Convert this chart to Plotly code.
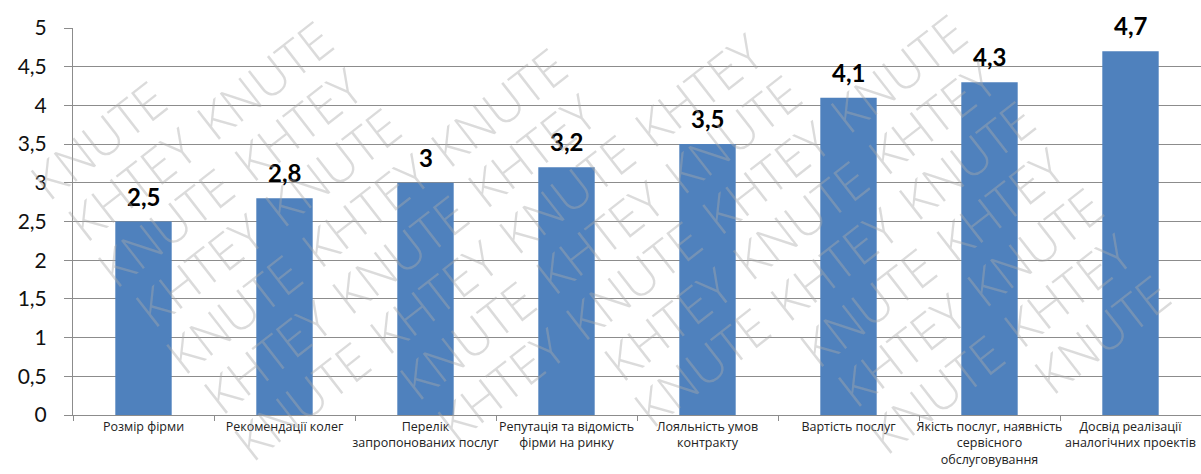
import math
import plotly.graph_objects as go

categories = [
    "Розмір фірми",
    "Рекомендації колег",
    "Перелік<br>запропонованих послуг",
    "Репутація та відомість<br>фірми на ринку",
    "Лояльність умов<br>контракту",
    "Вартість послуг",
    "Якість послуг, наявність<br>сервісного<br>обслуговування",
    "Досвід реалізації<br>аналогічних проектів",
]
values = [2.5, 2.8, 3.0, 3.2, 3.5, 4.1, 4.3, 4.7]
labels = [("%g" % v).replace(".", ",") for v in values]
ytick_vals = [0, 0.5, 1, 1.5, 2, 2.5, 3, 3.5, 4, 4.5, 5]
ytick_text = [("%g" % v).replace(".", ",") for v in ytick_vals]
watermark_words = ["KHTEY", "KNUTE"]

W, H = 1201, 474
ml, mr, mt, mb = 73, 0, 28, 59
pw, ph = W - ml - mr, H - mt - mb

fig = go.Figure()
fig.add_trace(go.Bar(
    x=categories, y=values,
    marker=dict(color="#4F81BD", line=dict(width=0)),
    width=0.4, hoverinfo="x+y",
))

annotations = []
# data labels
for c, v, t in zip(categories, values, labels):
    annotations.append(dict(
        x=c, y=v, xref="x", yref="y", text=t, showarrow=False,
        yanchor="bottom", yshift=9,
        font=dict(family="Lato", size=24, color="black", weight="bold"),
    ))

# watermark lattice (decorative), only words fully inside the figure
theta = math.radians(38)
ux, uy = math.cos(theta), -math.sin(theta)
vx, vy = math.sin(theta), math.cos(theta)
step_u, step_v = 168, 55
fs = 50
wlen = 5 * 0.6 * fs
cap = 0.72 * fs
hw = (wlen * math.cos(theta) + cap * math.sin(theta)) / 2 + 4
hh = (wlen * math.sin(theta) + cap * math.cos(theta)) / 2 + 9
ox, oy = 600, 237
for i in range(-12, 13):
    for j in range(-30, 31):
        px = ox + i * step_u * ux + j * step_v * vx
        py = oy + i * step_u * uy + j * step_v * vy
        if hw <= px <= W - hw and hh <= py <= H - hh:
            annotations.append(dict(
                x=(px - ml) / pw, y=(H - py - mb) / ph,
                xref="paper", yref="paper",
                text=watermark_words[(i + j) % 2], showarrow=False,
                textangle=-38, xanchor="center", yanchor="middle",
                font=dict(family="Open Sans", size=fs, weight=300,
                          color="rgba(170,170,170,0.42)"),
            ))

fig.update_layout(
    width=W, height=H,
    margin=dict(l=ml, r=mr, t=mt, b=mb),
    paper_bgcolor="white", plot_bgcolor="white",
    showlegend=False,
    annotations=annotations,
    yaxis=dict(range=[0, 5], tickvals=ytick_vals, ticktext=ytick_text,
               showgrid=True, gridcolor="#8c8c8c", gridwidth=1,
               showline=True, linecolor="#8c8c8c", linewidth=1,
               ticks="outside", ticklen=8, tickcolor="#8c8c8c",
               ticklabelstandoff=13,
               tickfont=dict(family="Lato", size=21, color="#111"),
               zeroline=False),
    xaxis=dict(type="category", tickson="boundaries", ticks="outside",
               ticklen=5, tickcolor="#8c8c8c", showline=True,
               linecolor="#8c8c8c", linewidth=1,
               tickfont=dict(family="Open Sans", size=12.5, color="#222"),
               tickangle=0),
)
fig.write_html("out.html")
